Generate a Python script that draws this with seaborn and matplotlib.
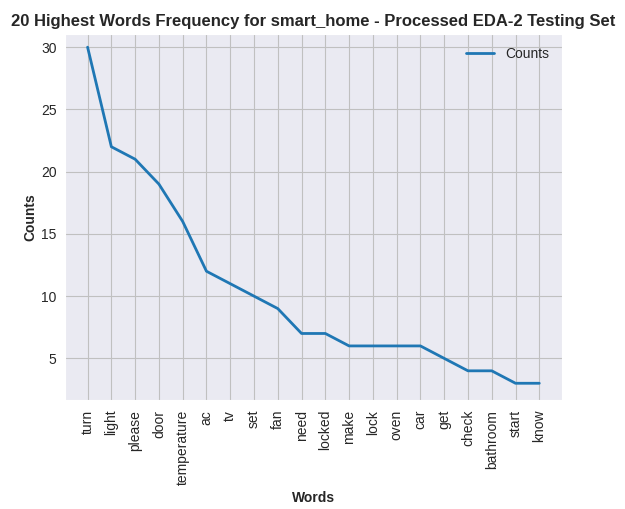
import matplotlib
matplotlib.use("Agg")
import matplotlib.pyplot as plt
import pandas as pd
import seaborn as sns

# word counts
WORDS = ["turn", "light", "please", "door", "temperature", "ac", "tv", "set",
         "fan", "need", "locked", "make", "lock", "oven", "car", "get",
         "check", "bathroom", "start", "know"]
COUNTS = [30, 22, 21, 19, 16, 12, 11, 10, 9, 7, 7, 6, 6, 6, 6, 5, 4, 4, 3, 3]

TITLE = "20 Highest Words Frequency for smart_home - Processed EDA-2 Testing Set"


def main():
    sns.set_style("darkgrid", {"grid.color": "silver"})
    plt.rcParams['font.family'] = ['Liberation Sans', 'DejaVu Sans']

    df = pd.DataFrame({"Words": WORDS, "Counts": COUNTS})

    fig, ax = plt.subplots(figsize=(6.25, 5.09), dpi=100)
    fig.subplots_adjust(left=0.104, right=0.899, top=0.933, bottom=0.214)

    sns.lineplot(data=df, x="Words", y="Counts", ax=ax, lw=2,
                 color="#1f77b4", label="Counts", sort=False)

    ax.grid(True, color="silver")
    ax.set_xlim(-0.95, len(WORDS) - 1 + 0.95)
    ax.set_ylim(1.65, 31.05)
    ax.set_yticks([5, 10, 15, 20, 25, 30])
    ax.tick_params(axis="x", labelrotation=90)
    ax.tick_params(axis="y", pad=2.5)
    ax.set_xlabel("Words", fontweight="bold")
    ax.set_ylabel("Counts", fontweight="bold", labelpad=2.5)
    ax.set_title(TITLE, fontweight="bold", fontsize=12)
    ax.legend(loc="upper right", frameon=False)

    plt.savefig("out.png", dpi=100)


if __name__ == "__main__":
    main()
